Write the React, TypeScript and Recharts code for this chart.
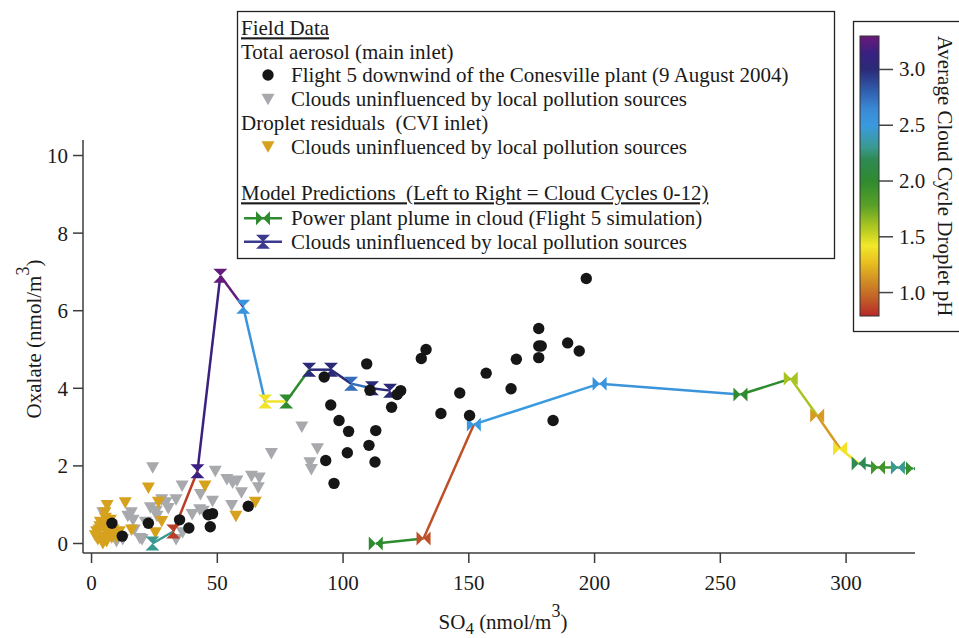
import React from "react";
import { ScatterChart, Scatter, XAxis, YAxis } from "recharts";

const W = 959;
const H = 638;
const FONT = "'Liberation Serif', 'Times New Roman', serif";
const FS = 21;

// field data, [SO4, oxalate] in nmol/m3
const flight5: [number, number][] = [
  [8.1, 0.52], [12.2, 0.19], [22.6, 0.52], [35, 0.61], [38.7, 0.4], [46.4, 0.74],
  [48.1, 0.77], [47.2, 0.43], [62.3, 0.96],
  [92.5, 4.29], [95.1, 3.57], [98.4, 3.17], [102.2, 2.89], [101.7, 2.34], [93.1, 2.14],
  [96.4, 1.55], [109.4, 4.63], [110.7, 3.95], [110.3, 2.53], [113, 2.91], [112.7, 2.1],
  [119.3, 3.51], [121.5, 3.84], [122.9, 3.94],
  [131.1, 4.77], [133, 5.0], [138.9, 3.35], [146.4, 3.88], [150.3, 3.3], [156.9, 4.39],
  [166.8, 3.99], [168.9, 4.75], [177.8, 4.79], [177.8, 5.09], [178.8, 5.09], [177.8, 5.54],
  [183.5, 3.17], [189.3, 5.17], [193.9, 4.96], [196.7, 6.83],
];

const aerosolClouds: [number, number][] = [
  [4.5, 0.79], [8, 0.45], [9.9, 0.05], [12.4, 0.1], [14.4, 0.7], [15.8, 0.79], [16.5, 0.6],
  [17, 0.35], [19.2, 0.13], [20.1, 0.1], [21.4, 0.55], [23.4, 0.92], [24.3, 1.95], [25.7, 0.83],
  [26, 0.7], [27.9, 1.13], [29.6, 1.05], [30.5, 0.9], [33.6, 1.13], [33.6, 0.1], [36, 1.48],
  [36.2, 0.28], [40, 0.75], [43, 0.87], [43.3, 1.26], [44.4, 0.83], [48.1, 1.09], [49.2, 1.86],
  [53.8, 1.65], [55.7, 0.98], [56.1, 1.56], [57.8, 1.61], [59.6, 1.31], [63.6, 1.73],
  [66.3, 1.44], [66.7, 1.69], [71.5, 2.32], [83.6, 3.0], [86.8, 2.08], [87.4, 1.91], [89.8, 2.44],
];

const dropletClouds: [number, number][] = [
  [1.5, 0.2], [2, 0.3], [2.5, 0.1], [3, 0.35], [3.3, 0.43], [3.5, 0.55], [4, 0.17], [4.5, 0.0],
  [5, 0.4], [5.3, 0.79], [5.5, 0.65], [6, 0.05], [6.2, 0.98], [6.5, 0.25], [7, 0.45], [7.5, 0.6],
  [8, 0.15], [8.6, 0.35], [9.9, 0.17], [11, 0.3], [13.4, 1.05], [15.9, 0.35], [22.6, 1.43],
  [25.4, 0.28], [26.6, 1.06], [27.9, 0.57], [45.1, 1.48], [57.4, 0.7], [65.1, 1.06],
];

// model predictions, cloud cycles left to right
const plumeSO4 = [113, 132, 152, 202, 258, 278, 288.5, 297.6, 305, 312.7, 320.6, 326.6];
const plumeOx = [0.0, 0.13, 3.07, 4.12, 3.84, 4.25, 3.3, 2.45, 2.06, 1.96, 1.96, 1.93];
const plumePH = [2.0, 0.9, 2.5, 2.55, 2.0, 1.6, 1.15, 1.4, 2.2, 1.9, 2.3, 1.95];

const cloudSO4 = [24.2, 32.5, 42.1, 51.2, 60.3, 69, 77.4, 86.5, 95.2, 103.2, 111.5, 118.7];
const cloudOx = [0.0, 0.31, 1.86, 6.9, 6.1, 3.66, 3.66, 4.48, 4.48, 4.12, 4.0, 3.94];
const cloudPH = [2.3, 0.85, 3.15, 3.28, 2.55, 1.4, 2.0, 3.0, 3.0, 2.75, 3.0, 3.0];

const xTicks = [0, 50, 100, 150, 200, 250, 300];
const yTicks = [0, 2, 4, 6, 8, 10];
const phTicks = [1.0, 1.5, 2.0, 2.5, 3.0];

// colour scale of the pH bar
const phStops: [number, string][] = [
  [0.79, "#b82828"], [0.93, "#c05a28"], [1.1, "#d08c24"], [1.27, "#e8c020"],
  [1.42, "#f2e82a"], [1.6, "#a8c420"], [1.78, "#5aa028"], [2.0, "#2e8b2e"],
  [2.2, "#2e8a55"], [2.3, "#3a9a90"], [2.5, "#3a9ae0"], [2.65, "#3a88d4"],
  [2.8, "#3060b0"], [3.0, "#2a2a78"], [3.15, "#3a2080"], [3.3, "#6a1a7a"],
];
const PH_MIN = 0.79;
const PH_MAX = 3.3;

const hex = (c: string) => [1, 3, 5].map((i) => parseInt(c.slice(i, i + 2), 16));
function phColor(ph: number) {
  if (ph <= phStops[0][0]) return phStops[0][1];
  for (let i = 1; i < phStops.length; i++) {
    const [p1, c1] = phStops[i];
    if (ph <= p1) {
      const [p0, c0] = phStops[i - 1];
      const t = (ph - p0) / (p1 - p0);
      const a = hex(c0), b = hex(c1);
      return `rgb(${a.map((v, k) => Math.round(v + (b[k] - v) * t)).join(",")})`;
    }
  }
  return phStops[phStops.length - 1][1];
}

const pts = (arr: [number, number][]) => arr.map(([x, y]) => ({ x, y }));
const model = (xs: number[], ys: number[], phs: number[]) =>
  xs.map((x, i) => ({ x, y: ys[i], ph: phs[i] }));
const segments = (p: { x: number; y: number; ph: number }[]) =>
  p.slice(0, -1).map((a, i) => ({ color: phColor(a.ph), data: [a, p[i + 1]] }));

const plume = model(plumeSO4, plumeOx, plumePH);
const clouds = model(cloudSO4, cloudOx, cloudPH);

const GRAY = "#a7a9ad";
const GOLD = "#d6a21e";
const BLACK = "#161616";

const downTri = (color: string) => (p: any) => (
  <path d={`M${p.cx - 6.5},${p.cy - 5.5}L${p.cx + 6.5},${p.cy - 5.5}L${p.cx},${p.cy + 6}Z`} fill={color} />
);
const dot = (p: any) => <circle cx={p.cx} cy={p.cy} r={5.7} fill={BLACK} />;
const bowtie = (cx: number, cy: number, c: string) => (
  <path d={`M${cx - 7},${cy - 7}L${cx},${cy}L${cx - 7},${cy + 7}ZM${cx + 7},${cy - 7}L${cx},${cy}L${cx + 7},${cy + 7}Z`} fill={c} />
);
const hourglass = (cx: number, cy: number, c: string) => (
  <path d={`M${cx - 7},${cy - 7}L${cx + 7},${cy - 7}L${cx},${cy}ZM${cx - 7},${cy + 7}L${cx + 7},${cy + 7}L${cx},${cy}Z`} fill={c} />
);
const none = () => <g />;

const txt = { fontFamily: FONT, fontSize: FS, fill: "#1a1a1a" } as const;

function Overlay() {
  const rows = [28.3, 51.7, 75, 99.3, 123.3, 146.7, 193.3, 218.3, 241.7].map((c) => c + 7);
  const barTop = 36, barBot = 316;
  const phY = (ph: number) => barBot - ((ph - PH_MIN) / (PH_MAX - PH_MIN)) * (barBot - barTop);
  return (
    <svg width={W} height={H} style={{ position: "absolute", left: 0, top: 0, pointerEvents: "none" }}>
      <defs>
        <linearGradient id="phbar" x1="0" y1="1" x2="0" y2="0">
          {phStops.map(([p, c]) => (
            <stop key={p} offset={(p - PH_MIN) / (PH_MAX - PH_MIN)} stopColor={c} />
          ))}
        </linearGradient>
      </defs>
      {/* legend */}
      <rect x={237.5} y={11.5} width={597} height={247} fill="#fff" stroke="#222" strokeWidth={1.3} />
      <text x={241} y={rows[0]} {...txt} textDecoration="underline">Field Data</text>
      <text x={241} y={rows[1]} {...txt}>Total aerosol (main inlet)</text>
      <circle cx={268} cy={rows[2] - 7} r={5.7} fill={BLACK} />
      <text x={291} y={rows[2]} {...txt}>Flight 5 downwind of the Conesville plant (9 August 2004)</text>
      {downTri(GRAY)({ cx: 268, cy: rows[3] - 7 })}
      <text x={291} y={rows[3]} {...txt}>Clouds uninfluenced by local pollution sources</text>
      <text x={241} y={rows[4]} {...txt} style={{ whiteSpace: "pre" }}>Droplet residuals  (CVI inlet)</text>
      {downTri(GOLD)({ cx: 268, cy: rows[5] - 7 })}
      <text x={291} y={rows[5]} {...txt}>Clouds uninfluenced by local pollution sources</text>
      <text x={241} y={rows[6]} {...txt} textDecoration="underline" style={{ whiteSpace: "pre" }}>
        Model Predictions  (Left to Right = Cloud Cycles 0-12)
      </text>
      <line x1={244} x2={282} y1={rows[7] - 7} y2={rows[7] - 7} stroke="#2e8b2e" strokeWidth={2.5} />
      {bowtie(263, rows[7] - 7, "#2e8b2e")}
      <text x={291} y={rows[7]} {...txt}>Power plant plume in cloud (Flight 5 simulation)</text>
      <line x1={244} x2={282} y1={rows[8] - 7} y2={rows[8] - 7} stroke="#3b3a8e" strokeWidth={2.5} />
      {hourglass(263, rows[8] - 7, "#3b3a8e")}
      <text x={291} y={rows[8]} {...txt}>Clouds uninfluenced by local pollution sources</text>

      {/* pH colour bar */}
      <rect x={853.5} y={21.5} width={130} height={310} fill="#fff" stroke="#222" strokeWidth={1.3} />
      <rect x={860} y={barTop} width={19} height={barBot - barTop} fill="url(#phbar)" stroke="#333" strokeWidth={1} />
      {phTicks.map((t) => (
        <g key={t}>
          <line x1={879} x2={893} y1={phY(t)} y2={phY(t)} stroke="#444" strokeWidth={1.5} />
          <text x={899} y={phY(t) + 7} {...txt}>{t.toFixed(1)}</text>
        </g>
      ))}
      <text transform="translate(938,176) rotate(90)" textAnchor="middle" {...txt}>
        Average Cloud Cycle Droplet pH
      </text>

      {/* axis titles */}
      <text transform="translate(41,339) rotate(-90)" textAnchor="middle" {...txt}>
        Oxalate (nmol/m<tspan fontSize={18} dy={-12}>3</tspan><tspan dy={12}>)</tspan>
      </text>
      <text x={503} y={629} textAnchor="middle" {...txt}>
        SO<tspan fontSize={17} dy={5}>4</tspan><tspan dy={-5}> (nmol/m</tspan>
        <tspan fontSize={18} dy={-12}>3</tspan><tspan dy={12}>)</tspan>
      </text>
    </svg>
  );
}

export default function App() {
  const axisStroke = { stroke: "#3c3c3c", strokeWidth: 1.5 };
  return (
    <div style={{ position: "absolute", left: 0, top: 0, width: W, height: H, background: "#fff" }}>
      <ScatterChart width={W} height={H} margin={{ top: 140, right: 44, bottom: 45, left: 0 }}>
        <XAxis
          type="number"
          dataKey="x"
          domain={[-3.4, 327.4]}
          allowDataOverflow
          ticks={xTicks}
          height={40}
          tickSize={10}
          tickMargin={12}
          axisLine={axisStroke}
          tickLine={axisStroke}
          tick={{ fontFamily: FONT, fontSize: FS, fill: "#1a1a1a" }}
        />
        <YAxis
          type="number"
          dataKey="y"
          domain={[-0.245, 10.4]}
          allowDataOverflow
          ticks={yTicks}
          width={83}
          tickSize={10}
          tickMargin={5}
          axisLine={axisStroke}
          tickLine={axisStroke}
          tick={{ fontFamily: FONT, fontSize: FS, fill: "#1a1a1a" }}
        />
        <Scatter data={pts(aerosolClouds)} shape={downTri(GRAY)} isAnimationActive={false} />
        <Scatter data={pts(dropletClouds)} shape={downTri(GOLD)} isAnimationActive={false} />
        {segments(clouds).map((s, i) => (
          <Scatter key={`c${i}`} data={s.data} line={{ stroke: s.color, strokeWidth: 2.5 }} shape={none} isAnimationActive={false} />
        ))}
        {segments(plume).map((s, i) => (
          <Scatter key={`p${i}`} data={s.data} line={{ stroke: s.color, strokeWidth: 2.5 }} shape={none} isAnimationActive={false} />
        ))}
        <Scatter data={clouds} shape={(p: any) => hourglass(p.cx, p.cy, phColor(p.payload.ph))} isAnimationActive={false} />
        <Scatter data={plume} shape={(p: any) => bowtie(p.cx, p.cy, phColor(p.payload.ph))} isAnimationActive={false} />
        <Scatter data={pts(flight5)} shape={dot} isAnimationActive={false} />
      </ScatterChart>
      <Overlay />
    </div>
  );
}
